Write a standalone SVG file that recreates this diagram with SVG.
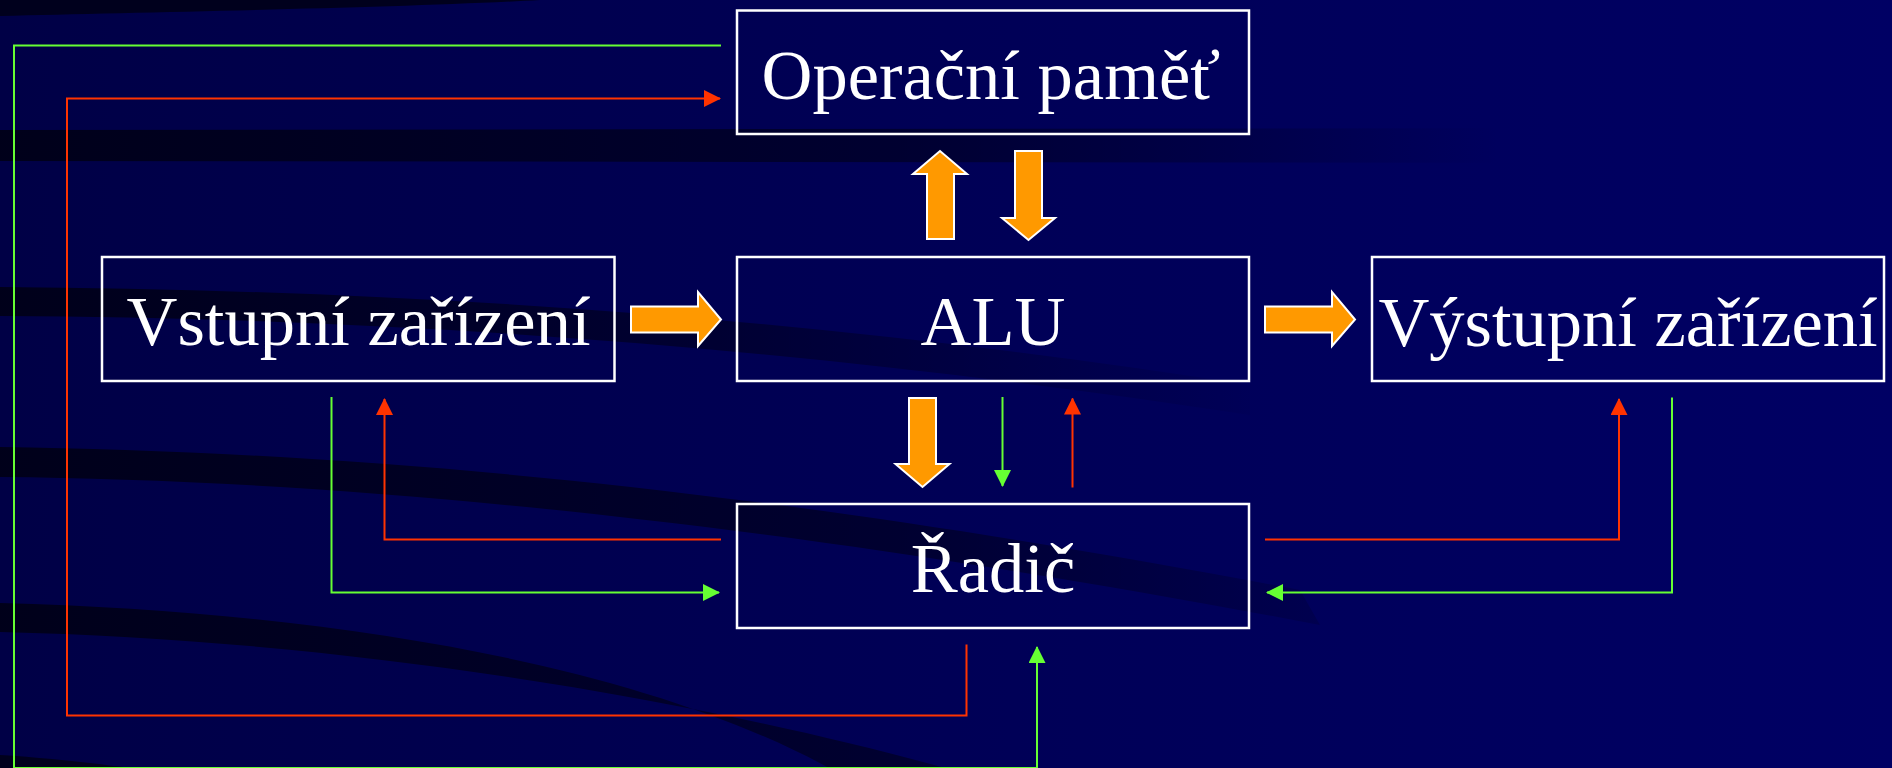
<svg xmlns="http://www.w3.org/2000/svg" width="1892" height="768" viewBox="0 0 1892 768">
  <defs>
    <linearGradient id="bg" x1="0" y1="0" x2="1" y2="0">
      <stop offset="0" stop-color="#000046"/>
      <stop offset="0.5" stop-color="#000056"/>
      <stop offset="1" stop-color="#000064"/>
    </linearGradient>
    <linearGradient id="band" gradientUnits="userSpaceOnUse" x1="0" y1="0" x2="1500" y2="0">
      <stop offset="0" stop-color="#000018" stop-opacity="0.95"/>
      <stop offset="0.6" stop-color="#000018" stop-opacity="0.6"/>
      <stop offset="1" stop-color="#000018" stop-opacity="0"/>
    </linearGradient>
    <linearGradient id="band2" gradientUnits="userSpaceOnUse" x1="0" y1="0" x2="1300" y2="0">
      <stop offset="0" stop-color="#000018" stop-opacity="0.95"/>
      <stop offset="0.55" stop-color="#000018" stop-opacity="0.55"/>
      <stop offset="1" stop-color="#000018" stop-opacity="0"/>
    </linearGradient>
    <marker id="ah-red" viewBox="0 0 17 17" markerWidth="17" markerHeight="17" markerUnits="userSpaceOnUse" refX="16" refY="8.5" orient="auto">
      <path d="M0,0 L17,8.5 L0,17 Z" fill="#FF3300"/>
    </marker>
    <marker id="ah-green" viewBox="0 0 17 17" markerWidth="17" markerHeight="17" markerUnits="userSpaceOnUse" refX="16" refY="8.5" orient="auto">
      <path d="M0,0 L17,8.5 L0,17 Z" fill="#66FF33"/>
    </marker>
  </defs>
  <style>
    .box { fill: none; stroke: #FFFFFF; stroke-width: 2.5; }
    .lbl { font-family: "Liberation Serif", "Times New Roman", serif; font-size: 70.5px; fill: #FFFFFF; text-anchor: middle; }
    .big { fill: #FF9900; stroke: #FFFFFF; stroke-width: 2; stroke-linejoin: miter; }
    .red { fill: none; stroke: #FF3300; stroke-width: 2; }
    .green { fill: none; stroke: #66FF33; stroke-width: 2; }
  </style>

  <g id="background">
    <rect x="0" y="0" width="1892" height="768" fill="url(#bg)"/>
    <path d="M0,0 L540,0 C400,8 150,12 0,16 Z" fill="#000018" opacity="0.9"/>
    <path d="M0,130 L1650,128 L1650,163 L0,161 Z" fill="url(#band)"/>
    <path d="M0,287 C400,290 800,315 1250,385 L1250,415 C800,347 400,318 0,316 Z" fill="url(#band2)"/>
    <path d="M0,447 C350,452 750,485 1300,590 L1320,625 C780,522 350,480 0,477 Z" fill="url(#band)"/>
    <path d="M0,603 C350,612 650,670 829,768 L945,768 C700,700 350,640 0,632 Z" fill="url(#band)"/>
    <path d="M0,755 C50,758 100,764 130,768 L0,768 Z" fill="#000018" opacity="0.9"/>
  </g>

  <g id="connectors">
    <!-- orange block arrows -->
    <path class="big" d="M631,306.5 L698,306.5 L698,292 L721,319.5 L698,346 L698,332.5 L631,332.5 Z"/>
    <path class="big" d="M1265,306.5 L1332,306.5 L1332,292 L1355,319.5 L1332,346 L1332,332.5 L1265,332.5 Z"/>
    <path class="big" d="M927,239 L927,174 L913,174 L940,151 L967,174 L954,174 L954,239 Z"/>
    <path class="big" d="M1015,151 L1042,151 L1042,218 L1055,218 L1028.5,240 L1002,218 L1015,218 Z"/>
    <path class="big" d="M909,398 L936,398 L936,464 L949.5,464 L922.5,487 L895.5,464 L909,464 Z"/>
    <!-- control (red) and status (green) lines -->
    <path class="green" d="M721,45.5 L14,45.5 L14,768 L1037,768 L1037,647" marker-end="url(#ah-green)"/>
    <path class="red" d="M966.5,644.5 L966.5,715.5 L67,715.5 L67,98.5 L720,98.5" marker-end="url(#ah-red)"/>
    <path class="green" d="M331.5,397 L331.5,592.5 L719,592.5" marker-end="url(#ah-green)"/>
    <path class="red" d="M721,539.5 L384.5,539.5 L384.5,399" marker-end="url(#ah-red)"/>
    <path class="red" d="M1265,539.5 L1619,539.5 L1619,399" marker-end="url(#ah-red)"/>
    <path class="green" d="M1672,397.5 L1672,592.5 L1267,592.5" marker-end="url(#ah-green)"/>
    <path class="green" d="M1002.5,397 L1002.5,486" marker-end="url(#ah-green)"/>
    <path class="red" d="M1072.5,487.5 L1072.5,398.5" marker-end="url(#ah-red)"/>
  </g>

  <g id="node-pamet">
    <rect class="box" x="737" y="10.5" width="512" height="123.5"/>
    <text class="lbl" x="991" y="98.5">Operační paměť</text>
  </g>
  <g id="node-vstup">
    <rect class="box" x="102" y="257" width="512.5" height="124"/>
    <text class="lbl" x="358.5" y="345">Vstupní zařízení</text>
  </g>
  <g id="node-alu">
    <rect class="box" x="737" y="257" width="512" height="124"/>
    <text class="lbl" x="993" y="344.5">ALU</text>
  </g>
  <g id="node-vystup">
    <rect class="box" x="1372" y="257" width="512" height="124"/>
    <text class="lbl" x="1628" y="345.5">Výstupní zařízení</text>
  </g>
  <g id="node-radic">
    <rect class="box" x="737" y="504" width="512" height="124"/>
    <text class="lbl" x="993" y="591.5">Řadič</text>
  </g>
</svg>
